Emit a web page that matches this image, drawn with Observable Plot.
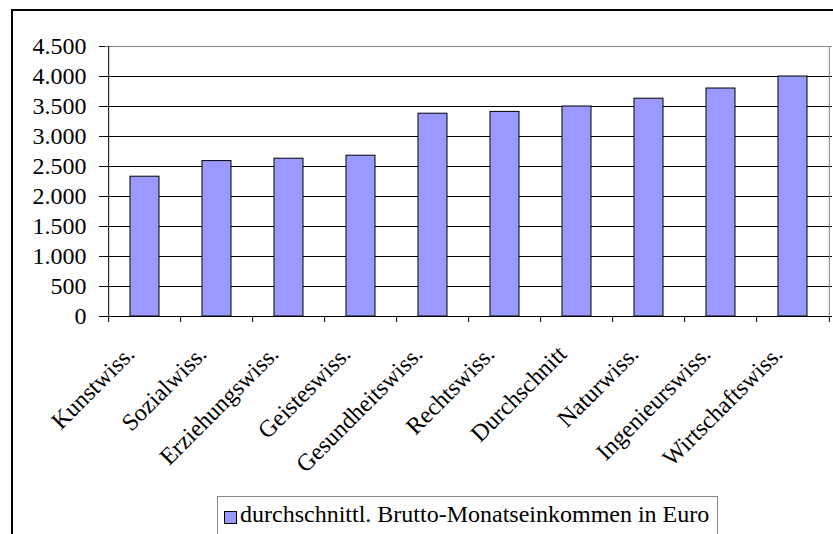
<!DOCTYPE html>
<html>
<head>
<meta charset="utf-8">
<script src="https://cdn.jsdelivr.net/npm/d3@7"></script>
<script src="https://cdn.jsdelivr.net/npm/@observablehq/plot@0.6"></script>
<style>
  html, body { margin: 0; padding: 0; background: #fff; width: 833px; height: 534px; overflow: hidden; }
  #wrap { position: relative; width: 833px; height: 534px; }
  #chart { position: absolute; left: 0; top: 0; }
  #frame { position: absolute; left: 11px; top: 9px; width: 900px; height: 600px; border-top: 2px solid #000; border-left: 2px solid #000; box-sizing: border-box; pointer-events: none; }
  #legend { position: absolute; left: 217px; top: 496px; width: 501px; height: 60px; border: 1px solid #888; background: #fff; box-sizing: border-box; font-family: "Liberation Serif", "Times New Roman", serif; font-size: 24px; color: #000; }
  #legend .sw { position: absolute; left: 6px; top: 14px; width: 13px; height: 13px; background: #9999ff; border: 1px solid #000; box-sizing: border-box; }
  #legend .lb { position: absolute; left: 22px; top: 3px; white-space: nowrap; line-height: 28px; }
</style>
</head>
<body>
<div id="wrap">
  <div id="chart"></div>
  <div id="frame"></div>
  <div id="legend"><span class="sw"></span><span class="lb"></span></div>
</div>
<script>
const categories = ["Kunstwiss.", "Sozialwiss.", "Erziehungswiss.", "Geisteswiss.", "Gesundheitswiss.", "Rechtswiss.", "Durchschnitt", "Naturwiss.", "Ingenieurswiss.", "Wirtschaftswiss."];
const values = [2330, 2590, 2630, 2680, 3380, 3410, 3500, 3630, 3800, 4000];
const yTicks = [0, 500, 1000, 1500, 2000, 2500, 3000, 3500, 4000, 4500];
const seriesLabel = "durchschnittl. Brutto-Monatseinkommen in Euro";

const data = categories.map((c, i) => ({cat: c, value: values[i]}));

const W = 833, H = 490, mL = 105, mR = 1, mT = 46, mB = 174;
const step = (W - mL - mR) / categories.length;
const font = "'Liberation Serif', 'Times New Roman', serif";
const fmt = d => d3.format(",")(d).replace(/,/g, ".");

const chart = Plot.plot({
  width: W, height: H,
  marginLeft: mL, marginRight: mR, marginTop: mT, marginBottom: mB,
  style: {fontFamily: font, fontSize: "24px", color: "#000", background: "transparent", overflow: "visible"},
  x: {domain: categories, paddingInner: 0.6, paddingOuter: 0.3, axis: null, label: null},
  y: {domain: [0, 4500], axis: null, label: null},
  marks: [
    Plot.ruleY(yTicks.filter(d => d > 0 && d < 4500), {stroke: "#000", strokeWidth: 1}),
    Plot.ruleY([yTicks[yTicks.length - 1]], {stroke: "#888", strokeWidth: 1}),
    Plot.ruleX([categories[categories.length - 1]], {dx: step / 2, stroke: "#888", strokeWidth: 1}),
    Plot.barY(data, {x: "cat", y: "value", fill: "#9999ff", stroke: "#000", strokeWidth: 1}),
    Plot.ruleY([0], {stroke: "#000", strokeWidth: 1}),
    Plot.ruleX([categories[0]], {dx: -step / 2, stroke: "#000", strokeWidth: 1}),
    Plot.axisY({ticks: yTicks, tickFormat: fmt, tickSize: 6, tickPadding: 13, fontSize: 24, stroke: "#000", fill: "#000", label: null, fontFamily: font}),
    Plot.axisX({ticks: categories, tickFormat: () => "", tickSize: 6, dx: -step / 2, stroke: "#000", label: null}),
    Plot.axisX({ticks: [categories[categories.length - 1]], tickFormat: () => "", tickSize: 6, dx: step / 2, stroke: "#000", label: null}),
    Plot.text(categories, {x: d => d, frameAnchor: "bottom", rotate: -45, textAnchor: "end", lineAnchor: "bottom", dx: -9, dy: 39, fontSize: 24, fill: "#000", fontFamily: font})
  ]
});
document.getElementById("chart").append(chart);
document.querySelector("#legend .lb").textContent = seriesLabel;
</script>
</body>
</html>
